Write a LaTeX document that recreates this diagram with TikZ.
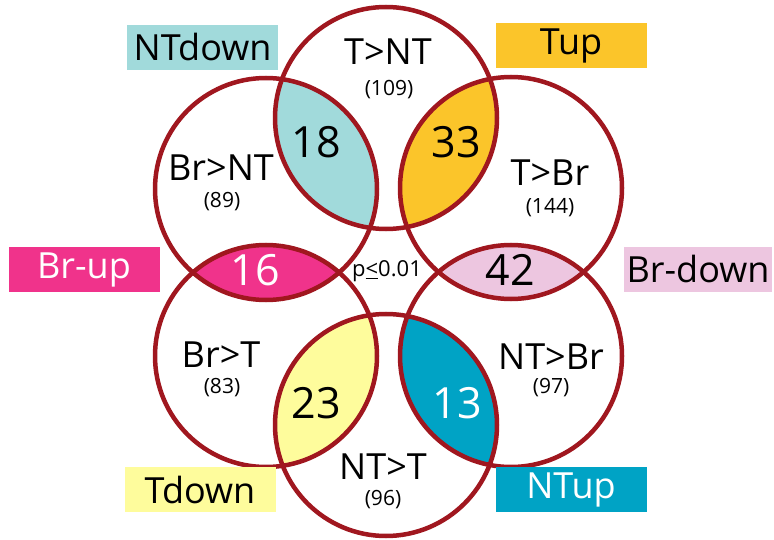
\documentclass[tikz,border=0pt]{standalone}
\usepackage{fontspec}
\setmainfont{Open Sans}
\definecolor{ring}{HTML}{A0171F}
\definecolor{cNTdown}{HTML}{A1DADB}
\definecolor{cTup}{HTML}{FBC52A}
\definecolor{cBrup}{HTML}{F0338B}
\definecolor{cBrdown}{HTML}{EDC6E0}
\definecolor{cTdown}{HTML}{FEFC9C}
\definecolor{cNTup}{HTML}{00A3C5}
\begin{document}
\begin{tikzpicture}[x=1pt,y=-1pt,
  ringline/.style={draw=ring, line width=4.5pt},
  tag/.style={minimum width=151pt, minimum height=45pt, inner sep=0pt, font=\fontsize{36}{40}\selectfont},
  setname/.style={inner sep=0pt, font=\fontsize{36}{40}\selectfont},
  count/.style={inner sep=0pt, font=\fontsize{21}{24}\selectfont},
  num/.style={inner sep=0pt, font=\fontsize{43}{46}\selectfont}]
\useasboundingbox (0,0) rectangle (774,540);
\def\R{111}
\coordinate (tnt) at (386,118);
\coordinate (brnt) at (266,189);
\coordinate (tbr) at (511,188);
\coordinate (brt) at (266,356);
\coordinate (ntbr) at (511,356);
\coordinate (ntt) at (386,425);
% lenses
\begin{scope}\clip (tnt) circle (\R); \fill[cNTdown] (brnt) circle (\R);\end{scope}
\begin{scope}\clip (tnt) circle (\R); \fill[cTup] (tbr) circle (\R);\end{scope}
\begin{scope}\clip (brnt) circle (\R); \fill[cBrup] (brt) circle (\R);\end{scope}
\begin{scope}\clip (tbr) circle (\R); \fill[cBrdown] (ntbr) circle (\R);\end{scope}
\begin{scope}\clip (brt) circle (\R); \fill[cTdown] (ntt) circle (\R);\end{scope}
\begin{scope}\clip (ntbr) circle (\R); \fill[cNTup] (ntt) circle (\R);\end{scope}
% circles
\foreach \c in {tnt,brnt,tbr,brt,ntbr,ntt} \draw[ringline] (\c) circle (\R);
% tags
\node[tag, fill=cNTdown] (tagntdown) at (202.5,47.5) {NTdown};
\node[tag, fill=cTup] (tagtup) at (571,45.5) {Tup};
\node[tag, fill=cBrup, text=white] (tagbrup) at (84,269.5) {Br-up};
\node[tag, fill=cBrdown, minimum width=148pt] (tagbrdown) at (698,269.5) {Br-down};
\node[tag, fill=cTdown] (tagtdown) at (200,489.5) {Tdown};
\node[tag, fill=cNTup, text=white] (tagntup) at (571,489.5) {NTup};
% set names
\node[setname] (ltnt) at (388,52) {T>NT};
\node[count] (ntnt) at (389,90) {(109)};
\node[setname] (lbrnt) at (221,168) {Br>NT};
\node[count] (nbrnt) at (222,202) {(89)};
\node[setname] (ltbr) at (550,173) {T>Br};
\node[count] (ntbr) at (550,208) {(144)};
\node[setname] (lbrt) at (221,355) {Br>T};
\node[count] (nbrt) at (222,388) {(83)};
\node[setname] (lntbr) at (551,357) {NT>Br};
\node[count] (nntbr) at (551,388) {(97)};
\node[setname] (lntt) at (383,467) {NT>T};
\node[count] (nntt) at (383,500) {(96)};
% overlap numbers
\node[num] (v18) at (316,142) {18};
\node[num] (v33) at (456,142) {33};
\node[num, text=white] (v16) at (255,270) {16};
\node[num] (v42) at (510,270) {42};
\node[num] (v23) at (316,403) {23};
\node[num, text=white] (v13) at (457,403) {13};
\node[inner sep=0pt, font=\fontsize{22}{24}\selectfont] (pval) at (387,271) {p\underline{<}0.01};
\end{tikzpicture}
\end{document}
